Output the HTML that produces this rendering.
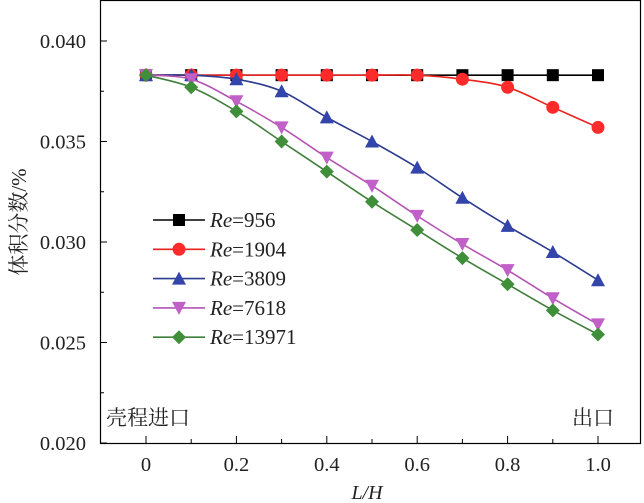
<!DOCTYPE html>
<html><head><meta charset="utf-8"><style>
body{margin:0;background:#fff}
svg{display:block;font-family:"Liberation Serif","Noto Serif CJK SC",serif}
</style></head><body>
<svg id="chart" width="644" height="503"></svg>
<script>
const xVals=[0,0.1,0.2,0.3,0.4,0.5,0.6,0.7,0.8,0.9,1.0];
const re956=[0.0383,0.0383,0.0383,0.0383,0.0383,0.0383,0.0383,0.0383,0.0383,0.0383,0.0383];
const re1904=[0.0383,0.0383,0.0383,0.0383,0.0383,0.0383,0.0383,0.0381,0.0377,0.0367,0.0357];
const re3809=[0.0383,0.0383,0.0381,0.0375,0.0362,0.0350,0.0337,0.0322,0.0308,0.0295,0.0281];
const re7618=[0.0383,0.0381,0.0370,0.0357,0.0342,0.0328,0.0313,0.0299,0.0286,0.0272,0.0259];
const re13971=[0.0383,0.0377,0.0365,0.0350,0.0335,0.0320,0.0306,0.0292,0.0279,0.0266,0.0254];
const seriesNames=["956","1904","3809","7618","13971"];
const yTicks=[0.020,0.025,0.030,0.035,0.040];
const yTickLabels=["0.020","0.025","0.030","0.035","0.040"];
const xTicks=[0,0.2,0.4,0.6,0.8,1.0];
const xTickLabels=["0","0.2","0.4","0.6","0.8","1.0"];

const NS="http://www.w3.org/2000/svg";
const svg=document.getElementById('chart');
const L=100,R=641,T=0,B=443;
const xs=v=>146+v*(598-146);
const ys=v=>443-(v-0.020)/0.020*(443-41);
function el(t,a,p){const e=document.createElementNS(NS,t);for(const k in a)e.setAttribute(k,a[k]);(p||svg).appendChild(e);return e;}

const frame=el('rect',{x:L+0.5,y:T+0.5,width:R-L-1,height:B-T,fill:'none',stroke:'#000','stroke-width':1.2});



for(let i=0;i<yTicks.length;i++){
  const y=ys(yTicks[i]);
  const t=el('line',{x1:L,x2:L+7,y1:y,y2:y,stroke:'#000'});
  
  
  if(i<yTicks.length-1){const ym=ys(yTicks[i]+0.0025);
    const m=el('line',{x1:L,x2:L+4,y1:ym,y2:ym,stroke:'#000'});
    
    }
  const tx=el('text',{x:L-14,y:y+7,'text-anchor':'end','font-size':20.5,fill:'#222'});tx.textContent=yTickLabels[i];
  
  
}
for(let v=0;v<=10;v++){
  const x=xs(v/10);
  const t=el('line',{x1:x,x2:x,y1:B,y2:B-(v%2?4:7),stroke:'#000'});
  
  
}
for(let i=0;i<xTicks.length;i++){
  const tx=el('text',{x:xs(xTicks[i]),y:471,'text-anchor':'middle','font-size':20.5,fill:'#222'});tx.textContent=xTickLabels[i];
  
  
}
const xt=el('text',{x:367,y:499,'text-anchor':'middle','font-size':20,'font-style':'italic',fill:'#222'});xt.textContent='L/H';


const yt=el('text',{x:0,y:0,'text-anchor':'middle','font-size':21,fill:'#222',transform:'translate(26,222) rotate(-90)'});yt.textContent='体积分数/%';


const a1=el('text',{x:106,y:425,'font-size':21,fill:'#222'});a1.textContent='壳程进口';


const a2=el('text',{x:614,y:425,'text-anchor':'end','font-size':21,fill:'#222'});a2.textContent='出口';



const colors=['#000000','#e8221e','#2b3b8f','#b455b4','#3f7f3a'];
const fills=['#000000','#ff2a2a','#3344aa','#c060c8','#3f8f3a'];
const data=[re956,re1904,re3809,re7618,re13971];
function marker(k,x,y,g){
  const c=fills[k];let m;
  if(k===0)m=el('rect',{x:x-6,y:y-6,width:12,height:12,fill:c},g);
  else if(k===1)m=el('circle',{cx:x,cy:y,r:6.5,fill:c},g);
  else if(k===2)m=el('polygon',{points:`${x},${y-7} ${x-7},${y+6} ${x+7},${y+6}`,fill:c},g);
  else if(k===3)m=el('polygon',{points:`${x},${y+7} ${x-7},${y-6} ${x+7},${y-6}`,fill:c},g);
  else m=el('polygon',{points:`${x},${y-7} ${x+7},${y} ${x},${y+7} ${x-7},${y}`,fill:c},g);
  return m;
}
for(let k=0;k<5;k++){
  const g=el('g',{});
  
  
  const p=xVals.map((v,i)=>[xs(v),ys(data[k][i])]);
  let d=`M${p[0][0]},${p[0][1]}`;
  for(let i=0;i<p.length-1;i++){
    const p0=p[Math.max(0,i-1)],p1=p[i],p2=p[i+1],p3=p[Math.min(p.length-1,i+2)];
    const c1=[p1[0]+(p2[0]-p0[0])/6,p1[1]+(p2[1]-p0[1])/6],c2=[p2[0]-(p3[0]-p1[0])/6,p2[1]-(p3[1]-p1[1])/6];
    d+=` C${c1[0]},${c1[1]} ${c2[0]},${c2[1]} ${p2[0]},${p2[1]}`;
  }
  const path=el('path',{d:d,fill:'none',stroke:colors[k],'stroke-width':1.6},g);
  
  
  p.forEach(q=>{const m=marker(k,q[0],q[1],g);
    
    });
  const ly=220+k*29.3;
  const lg=el('g',{});
  
  
  el('line',{x1:153,x2:205,y1:ly,y2:ly,stroke:colors[k],'stroke-width':1.6},lg);
  marker(k,179,ly,lg);
  const t=el('text',{x:210,y:ly+7,'font-size':21,fill:'#222'},lg);
  t.innerHTML='<tspan font-style="italic">Re</tspan>='+seriesNames[k];
}
</script>
</body></html>
